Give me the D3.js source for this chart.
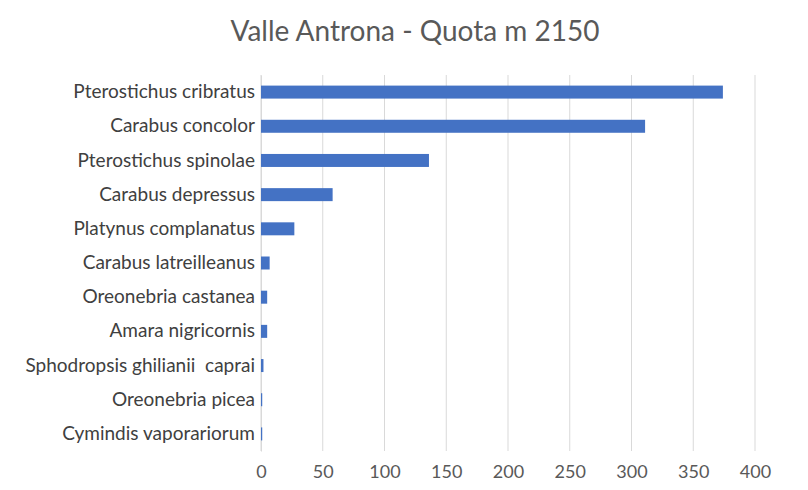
<!DOCTYPE html>
<html><head><meta charset="utf-8">
<script src="https://cdn.jsdelivr.net/npm/d3@7"></script>
<style>body{margin:0;background:#fff}svg{display:block}</style>
</head><body>
<script>
const categories = ["Pterostichus cribratus","Carabus concolor","Pterostichus spinolae","Carabus depressus","Platynus complanatus","Carabus latreilleanus","Oreonebria castanea","Amara nigricornis","Sphodropsis ghilianii  caprai","Oreonebria picea","Cymindis vaporariorum"];
const values = [374, 311, 136, 58, 27, 7, 5, 5, 2, 1, 1];
const ticks = [0,50,100,150,200,250,300,350,400];
const title = "Valle Antrona - Quota m 2150";

const W=808,H=490;
const svg=d3.select("body").append("svg").attr("width",W).attr("height",H);
const m={left:261,right:53,top:75,bottom:39};
const x=d3.scaleLinear().domain([0,400]).range([m.left,W-m.right]);
const y=d3.scaleBand().domain(categories).range([m.top,H-m.bottom]).paddingInner(0.62).paddingOuter(0.31);

svg.append("text").attr("x",415).attr("y",41).attr("text-anchor","middle")
  .attr("font-family","Lato, 'Open Sans', sans-serif").attr("font-size",28).attr("fill","#595959").text(title);

svg.append("g").selectAll("line").data(ticks).join("line")
  .attr("x1",d=>x(d)).attr("x2",d=>x(d)).attr("y1",m.top).attr("y2",H-m.bottom)
  .attr("stroke","#d9d9d9").attr("stroke-width",1);

const ya=d3.axisLeft(y).tickSize(0).tickPadding(6);
const gy=svg.append("g").attr("transform",`translate(${m.left},0)`).call(ya);
gy.select(".domain").attr("stroke","#d9d9d9");
gy.selectAll("text").attr("font-family","Lato, sans-serif").attr("font-size",19).attr("fill","#404040").style("white-space","pre");

svg.append("g").selectAll("rect").data(categories).join("rect")
  .attr("x",x(0)).attr("y",d=>y(d)).attr("height",y.bandwidth())
  .attr("width",(d,i)=>x(values[i])-x(0)).attr("fill","#4472C4");

const xa=d3.axisBottom(x).tickValues(ticks).tickSize(0).tickPadding(14);
const gx=svg.append("g").attr("transform",`translate(0,${H-m.bottom})`).call(xa);
gx.select(".domain").remove();
gx.selectAll("text").attr("font-family","Lato, sans-serif").attr("font-size",18).attr("fill","#595959");
</script>
</body></html>
